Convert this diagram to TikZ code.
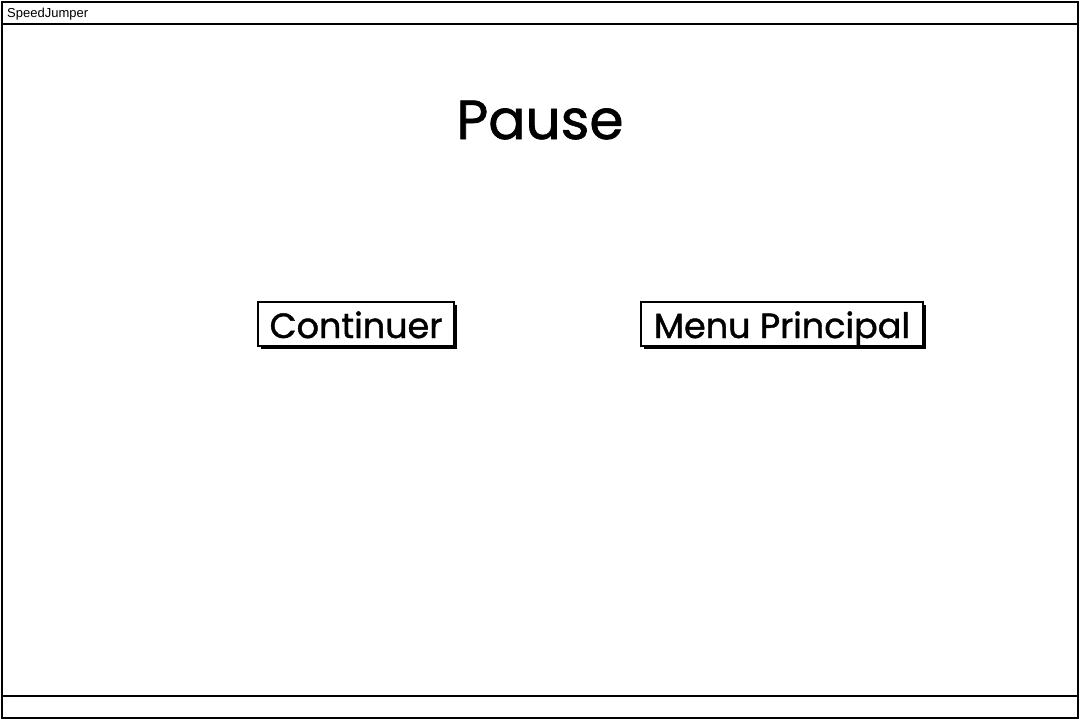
\documentclass[tikz,border=0pt]{standalone}
\usepackage{fontspec}
\setmainfont{Poppins}
\newfontfamily\sketchfont[FakeBold=1.2]{Poppins}
\newfontfamily\barfont{Liberation Sans}
\begin{document}
\begin{tikzpicture}[x=1pt,y=-1pt,
  frame/.style={draw=black,line width=2pt},
  btn/.style={draw=black,line width=1.6pt,fill=white,inner sep=0pt,minimum height=44pt,text height=36pt,text depth=8pt,font=\sketchfont\fontsize{35}{42}\selectfont},
  shadow/.style={fill=black}]
\useasboundingbox (0,0) rectangle (1080,720);
\fill[white] (0,0) rectangle (1080,720);
\draw[frame] (2,2) rectangle (1078,718);
\draw[frame] (2,24) -- (1078,24);
\draw[frame] (2,696) -- (1078,696);
\node[anchor=base west,font=\barfont\fontsize{13}{15}\selectfont,inner sep=0pt] (title) at (7,17) {SpeedJumper};
\node[font=\sketchfont\fontsize{55}{64}\selectfont,inner sep=0pt,anchor=base] (pause) at (540,139) {Pause};
\fill[shadow] (261,305) rectangle (457,349);
\node[btn,minimum width=196pt] (cont) at (356,324) {Continuer};
\fill[shadow] (644,305) rectangle (926,349);
\node[btn,minimum width=282pt] (menu) at (782,324) {Menu Principal};
\end{tikzpicture}
\end{document}
